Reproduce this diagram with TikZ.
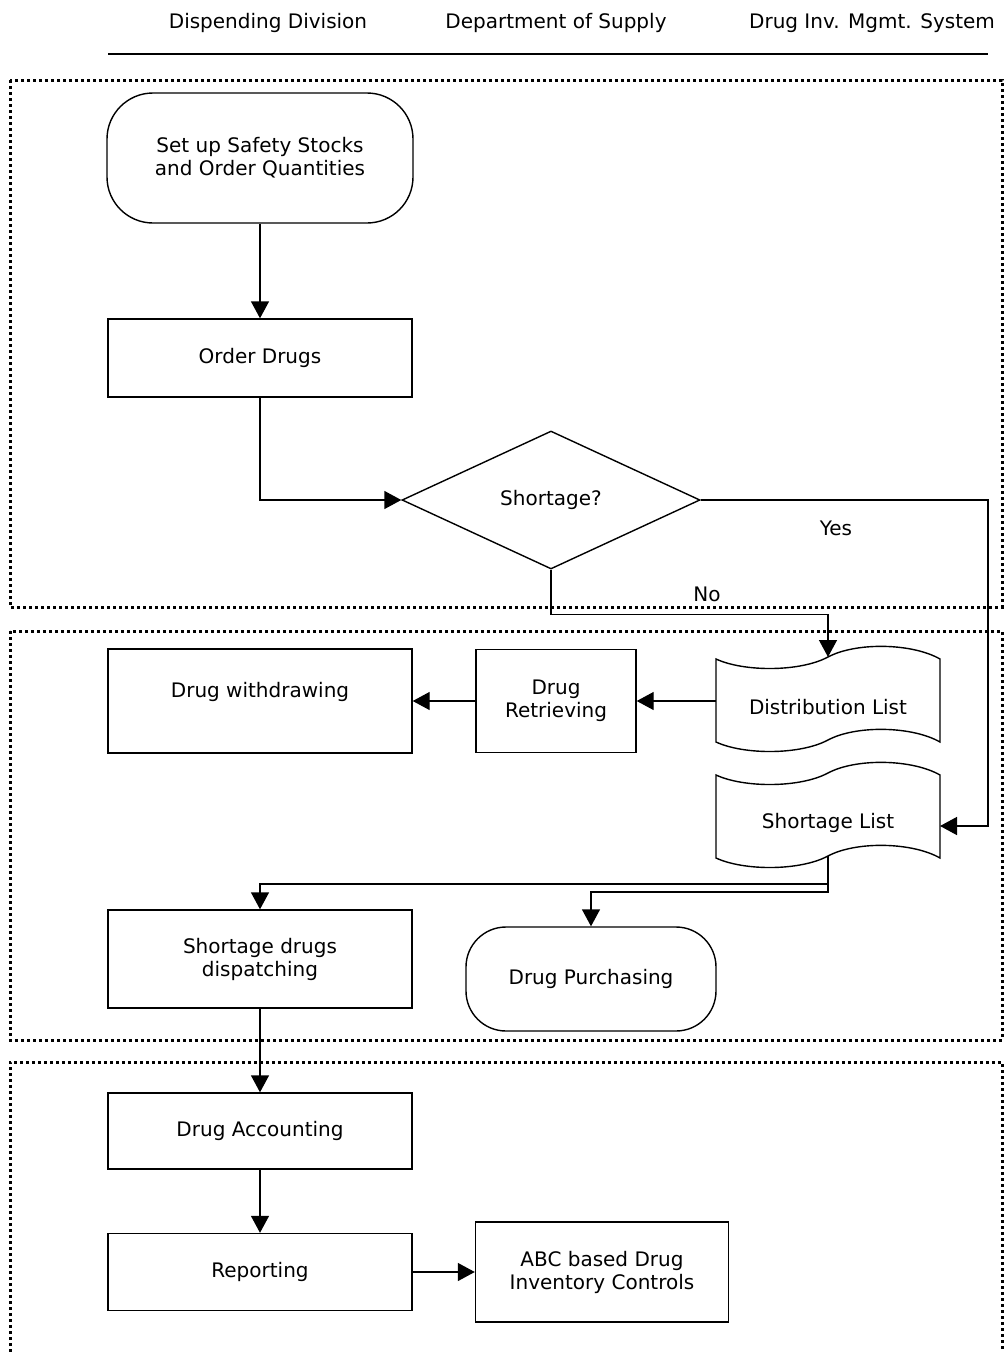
\documentclass[tikz,border=0pt]{standalone}
\usepackage{fontspec}
\setmainfont{DejaVu Sans}
\usetikzlibrary{arrows.meta}
\usetikzlibrary{shapes.geometric}

\tikzset{
  box/.style={draw, line width=1.4pt, minimum width=304pt, align=center},
  term/.style={draw, line width=1.4pt, rounded corners=46pt, align=center},
  lane/.style={line width=3pt, dash pattern=on 3pt off 3pt},
  arr/.style={line width=1.4pt, -{Triangle[length=17pt,width=18pt]}},
}

% wavy list sheet: name, centre x, centre y
\newcommand{\wavelist}[3]{%
  \draw[line width=1.4pt, shift={(#2,#3)}] (-112,-41.5)
    .. controls (-84,-28.5) and (-28,-28.5) .. (0,-43.5)
    .. controls (28,-58.5) and (84,-57.5) .. (112,-41.5) -- (112,41.5)
    .. controls (84,25.5) and (28,24.5) .. (0,39.5)
    .. controls (-28,54.5) and (-84,54.5) .. (-112,41.5) -- cycle;
  \path[shift={(#2,#3)}] (0,-43.5) coordinate (#1-n) (0,39.5) coordinate (#1-s)
    (-112,0.5) coordinate (#1-w) (112,9.5) coordinate (#1-e);
}

\begin{document}
\begin{tikzpicture}[x=1pt, y=-1pt, font=\fontsize{20}{23}\selectfont]
  \useasboundingbox (0,0) rectangle (1004,1352);

  % Header
  \node (hdisp) at (268,23) {Dispending Division};
  \node (hsup) at (556,23) {Department of Supply};
  \node (hsys) at (872,23) {Drug Inv. Mgmt. System};
  \draw[line width=1.6pt] (108,54) -- (988,54);

  % Lanes
  \draw[lane] (10,80) rectangle (1002,607);
  \draw[lane] (10,631) rectangle (1002,1040);
  \draw[lane] (10,1400) |- (1002,1062) -- (1002,1400);

  % Ordering
  \node[term, minimum width=306pt, minimum height=130pt] (setup) at (260,158) {Set up Safety Stocks\\and Order Quantities};
  \node[box, minimum height=78pt] (order) at (260,358) {Order Drugs};
  \node[draw, diamond, line width=1.4pt, minimum width=298pt, minimum height=138pt, inner sep=0pt] (short) at (551,500) {Shortage?};
  \node (yes) at (836,528) {Yes};
  \node (no) at (707,594) {No};

  % Lists
  \wavelist{dl}{828}{700.5}
  \node (dl) at (828,707) {Distribution List};
  \wavelist{sl}{828}{816.5}
  \node (sl) at (828,823) {Shortage List};

  \node[box, minimum width=160pt, minimum height=103pt] (retr) at (556,701) {Drug\\Retrieving};
  \node[box, minimum height=104pt, text depth=22pt] (withd) at (260,701) {Drug withdrawing};
  \node[box, minimum height=98pt] (disp) at (260,959) {Shortage drugs\\dispatching};
  \node[term, rounded corners=40pt, minimum width=250pt, minimum height=104pt] (purch) at (591,979) {Drug Purchasing};

  % Accounting
  \node[box, minimum height=76pt] (acct) at (260,1131) {Drug Accounting};
  \node[box, minimum height=77pt] (rep) at (260,1272) {Reporting};
  \node[box, minimum width=253pt, minimum height=100pt] (abc) at (602,1272) {ABC based Drug\\Inventory Controls};

  % Flow
  \draw[arr] (setup) -- (order);
  \draw[arr] (order.south) |- (short.west);
  \draw[arr] (short.south) -- ++(0,45) -| (dl-n);
  \coordinate (yesbend) at (988,500);
  \draw[arr] (short.east) -- (yesbend) |- (sl-e);
  \draw[arr] (dl-w) -- (dl-w -| retr.east);
  \draw[arr] (retr.west) -- (withd.east);
  \coordinate (split1) at (828,884);
  \coordinate (split2) at (828,892);
  \draw[arr] (sl-s) -- (split1) -| (disp.north);
  \draw[arr] (split1) -- (split2) -| (purch.north);
  \draw[arr] (disp) -- (acct);
  \draw[arr] (acct) -- (rep);
  \draw[arr] (rep) -- (abc);
\end{tikzpicture}
\end{document}
